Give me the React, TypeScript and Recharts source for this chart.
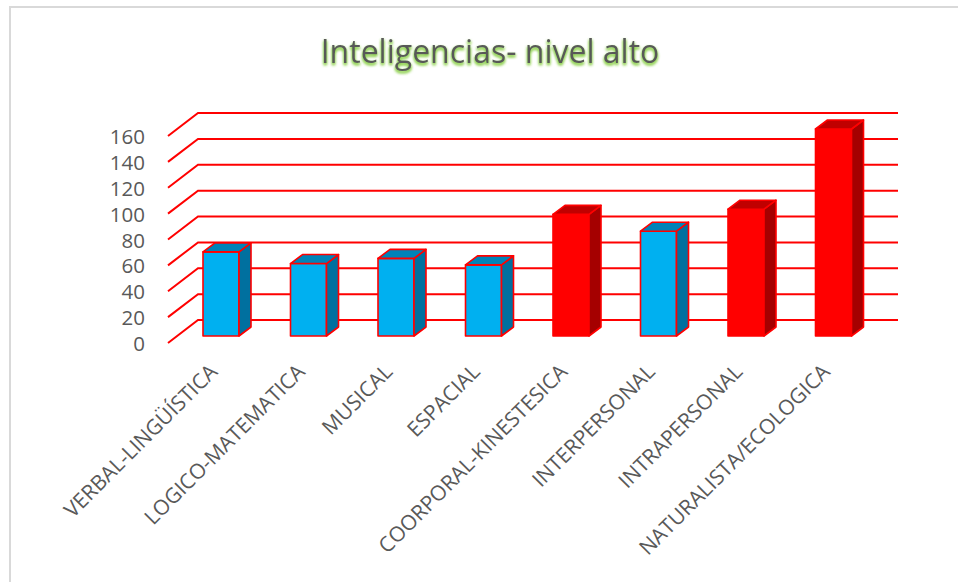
import React from 'react'
import { BarChart, Bar, XAxis, YAxis, CartesianGrid } from 'recharts'

const categories = [
  'VERBAL-LINGÜÍSTICA',
  'LOGICO-MATEMATICA',
  'MUSICAL',
  'ESPACIAL',
  'COORPORAL-KINESTESICA',
  'INTERPERSONAL',
  'INTRAPERSONAL',
  'NATURALISTA/ECOLOGICA',
]
const values = [65, 56, 60, 55, 94, 81, 98, 160]
const yTicks = [0, 20, 40, 60, 80, 100, 120, 140, 160]
const highlighted = ['COORPORAL-KINESTESICA', 'INTRAPERSONAL', 'NATURALISTA/ECOLOGICA']

const data = categories.map((name, i) => ({ name, value: values[i] }))

const FONT = '"Open Sans", sans-serif'
const TEXT = '#595959'
const GRID = '#FF0000'

// 3d bar: front face + right side + top
const Bar3D = (props: any) => {
  const { x, y, width, height, payload } = props
  if (height == null || height <= 0) return null
  const hot = highlighted.includes(payload.name)
  const front = hot ? '#FF0000' : '#00B0F0'
  const side = hot ? '#A50000' : '#00709F'
  const top = hot ? '#C00000' : '#0083B8'
  const dx = 12
  const dy = -9
  const r = x + width
  const b = y + height
  return (
    <g stroke="#FF0000" strokeWidth={1.6} strokeLinejoin="round">
      <rect x={x} y={y} width={width} height={height} fill={front} />
      <path d={`M${r},${y}L${r + dx},${y + dy}L${r + dx},${b + dy}L${r},${b}Z`} fill={side} />
      <path d={`M${x},${y}L${x + dx},${y + dy}L${r + dx},${y + dy}L${r},${y}Z`} fill={top} />
    </g>
  )
}

// gridline: diagonal from the front wall then flat along the back wall
const gridLine = (props: any) => {
  const { x1, y1, x2, key } = props
  return (
    <path
      key={key}
      d={`M${x1 - 9},${y1 + 7}L${x1 + 21},${y1 - 16}L${x2 + 21},${y1 - 16}`}
      stroke={GRID}
      strokeWidth={2}
      fill="none"
    />
  )
}

const YTick = (props: any) => {
  const { x, y, payload } = props
  return (
    <text x={x - 32} y={y + 7} textAnchor="end" dominantBaseline="central" fill={TEXT} fontSize={20.5} fontFamily={FONT}>
      {payload.value}
    </text>
  )
}

const XTick = (props: any) => {
  const { x, y, payload } = props
  return (
    <text
      transform={`translate(${x - 2},${y + 37}) rotate(-45)`}
      textAnchor="end"
      fill={TEXT}
      fontSize={21}
      fontFamily={FONT}
    >
      {payload.value}
    </text>
  )
}

export default function App() {
  return (
    <div style={{ position: 'absolute', left: 0, top: 0, width: 958, height: 582, overflow: 'hidden', background: '#fff' }}>
      <div
        style={{
          position: 'absolute',
          left: 9,
          top: 6,
          width: 1000,
          height: 1000,
          borderLeft: '2px solid #D9D9D9',
          borderTop: '2px solid #D9D9D9',
        }}
      />
      <svg width={958} height={120} style={{ position: 'absolute', left: 0, top: 0 }}>
        <defs>
          <filter id="glow" x="-10%" y="-40%" width="120%" height="180%">
            <feFlood floodColor="#8FD14F" floodOpacity={1} result="c" />
            <feComposite in="c" in2="SourceAlpha" operator="in" result="g" />
            <feGaussianBlur in="g" stdDeviation={1.8} result="b" />
            <feOffset in="b" dy={2} result="o" />
            <feMerge>
              <feMergeNode in="o" />
              <feMergeNode in="o" />
              <feMergeNode in="SourceGraphic" />
            </feMerge>
          </filter>
        </defs>
        <text x={490} y={63} textAnchor="middle" fill={TEXT} fontSize={32} fontFamily={FONT} filter="url(#glow)">
          Inteligencias- nivel alto
        </text>
      </svg>
      <div style={{ position: 'absolute', left: 0, top: 0 }}>
        <BarChart width={958} height={582} data={data} margin={{ top: 129, right: 81, bottom: 86, left: 117 }}>
          <CartesianGrid vertical={false} horizontal={gridLine} />
          <XAxis
            dataKey="name"
            interval={0}
            axisLine={false}
            tickLine={false}
            tickSize={0}
            tickMargin={0}
            height={160}
            tick={<XTick />}
          />
          <YAxis
            domain={[0, 160]}
            ticks={yTicks}
            axisLine={false}
            tickLine={false}
            tickSize={0}
            tickMargin={0}
            width={60}
            tick={<YTick />}
          />
          <Bar dataKey="value" barSize={36} shape={<Bar3D />} isAnimationActive={false} />
        </BarChart>
      </div>
    </div>
  )
}
